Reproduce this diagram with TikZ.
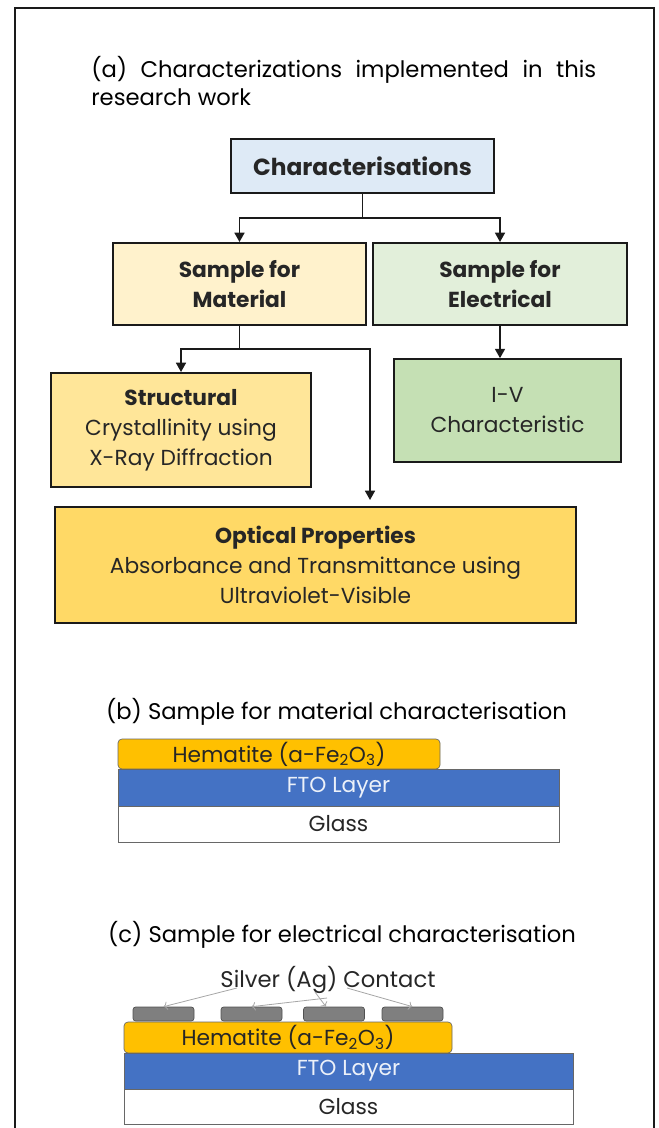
\documentclass[tikz,border=0pt]{standalone}
\usepackage{fontspec}
\setmainfont{Poppins}
\usetikzlibrary{arrows.meta,positioning}
\definecolor{Ink}{HTML}{262626}
\definecolor{Frame}{HTML}{1A1A1A}
\definecolor{TopBlue}{HTML}{DEEAF6}
\definecolor{MatYellow}{HTML}{FFF2CC}
\definecolor{EleGreen}{HTML}{E2EFDA}
\definecolor{StrYellow}{HTML}{FFE699}
\definecolor{IVGreen}{HTML}{C5E0B4}
\definecolor{OptGold}{HTML}{FFD966}
\definecolor{Hem}{HTML}{FFC000}
\definecolor{FTOBlue}{HTML}{4472C4}
\definecolor{Silver}{HTML}{7F7F7F}
\definecolor{Pointer}{HTML}{A6A6A6}

\begin{document}
\begin{tikzpicture}[x=0.75pt, y=-0.75pt,
    chartbox/.style={draw=Frame, line width=1.5pt, align=center, text=Ink, inner sep=2pt,
      font=\fontsize{16.3}{22.5}\selectfont},
    flow/.style={draw=Frame, line width=1.2pt, -{Triangle[length=7pt,width=7.5pt]}},
    layer/.style={draw=Ink!70, line width=0.5pt, inner sep=0pt, font=\fontsize{16.3}{18}\selectfont},
    caption/.style={font=\fontsize{17}{21}\selectfont, text=black, inner sep=0pt}]
        \useasboundingbox (0,0) rectangle (659,1128);
        \draw[Frame, line width=1.5pt] (15,1140) -- (15,8) -- (654,8) -- (654,1140);
        % (a) flow chart
        \node[caption, anchor=north west, text width=378.75pt, align=justify] (titlea) at (91,56)
          {(a) Characterizations implemented in this\linebreak research work};
        \node[chartbox, fill=TopBlue, minimum width=197pt, minimum height=40.5pt,
          font=\fontsize{17.5}{20}\selectfont\bfseries] (char) at (362.5,166) {Characterisations};
        \node[chartbox, fill=MatYellow, minimum width=190pt, minimum height=61.5pt] (mat) at (239.5,284)
          {\textbf{Sample for}\\\textbf{Material}};
        \node[chartbox, fill=EleGreen, minimum width=190pt, minimum height=61.5pt] (ele) at (500,284)
          {\textbf{Sample for}\\\textbf{Electrical}};
        \node[chartbox, fill=StrYellow, minimum width=195pt, minimum height=85.5pt] (str) at (181,430)
          {\textbf{Structural}\\Crystallinity using\\X-Ray Diffraction};
        \node[chartbox, fill=IVGreen, minimum width=170pt, minimum height=77pt] (iv) at (507.5,410.5)
          {I-V\\Characteristic};
        \node[chartbox, fill=OptGold, minimum width=391pt, minimum height=87pt] (opt) at (315.5,565)
          {\textbf{Optical Properties}\\Absorbance and Transmittance using\\Ultraviolet-Visible};
        \coordinate (optin) at (370,500);
        \draw[flow] (char.south) -- ++(0,24) -| (mat.north);
        \draw[flow] (char.south) -- ++(0,24) -| (ele.north);
        \draw[flow] (mat.south) -- ++(0,23) -| (str.north);
        \draw[flow] (mat.south) -- ++(0,23) -| (optin);
        \draw[flow] (ele.south) -- (ele.south |- iv.north);
        % (b) material sample
        \node[caption] (titleb) at (336.5,712) {(b) Sample for material characterisation};
        \node[layer, fill=Hem, rounded corners=3pt, minimum width=241.5pt, minimum height=22.5pt, text=Ink]
          (hemb) at (279,754) {Hematite (a-Fe\textsubscript{2}O\textsubscript{3})};
        \node[layer, fill=FTOBlue, minimum width=330.75pt, minimum height=27.75pt, text=white!90!FTOBlue]
          (ftob) at (338.5,787.5) {FTO Layer};
        \node[layer, fill=white, minimum width=330.75pt, minimum height=27pt, text=Ink]
          (glassb) at (338.5,824) {Glass};
        % (c) electrical sample
        \node[caption] (titlec) at (342,935) {(c) Sample for electrical characterisation};
        \node[caption, text=Ink] (ag) at (328,980) {Silver (Ag) Contact};
        \foreach \cx [count=\i] in {163.5,251.5,334,412.5}
          \node[layer, fill=Silver, draw=Ink!80, rounded corners=2pt, minimum width=45.75pt,
            minimum height=10.5pt] (ag\i) at (\cx,1014) {};
        \node[layer, fill=Hem, rounded corners=3pt, minimum width=246pt, minimum height=23.25pt, text=Ink]
          (hemc) at (288,1037.5) {Hematite (a-Fe\textsubscript{2}O\textsubscript{3})};
        \node[layer, fill=FTOBlue, minimum width=336.75pt, minimum height=27pt, text=white!90!FTOBlue]
          (ftoc) at (348.5,1071) {FTO Layer};
        \node[layer, fill=white, minimum width=336.75pt, minimum height=26.25pt, text=Ink]
          (glassc) at (348.5,1106.5) {Glass};
        \coordinate (p1) at (237,988);
        \coordinate (p2) at (327,998);
        \coordinate (p3) at (315,992);
        \coordinate (p4) at (347,988);
        \draw[Pointer, line width=0.6pt, -{To[length=3pt]}] (p1) -- (ag1.north);
        \draw[Pointer, line width=0.6pt, -{To[length=3pt]}] (p2) -- (ag2.north);
        \draw[Pointer, line width=0.6pt, -{To[length=3pt]}] (p3) -- ([xshift=-6pt]ag3.north);
        \draw[Pointer, line width=0.6pt, -{To[length=3pt]}] (p4) -- (ag4.north);
\end{tikzpicture}
\end{document}
